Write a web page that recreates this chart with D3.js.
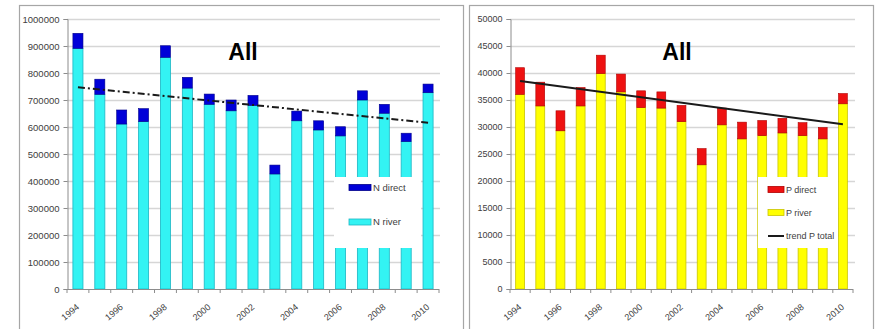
<!DOCTYPE html>
<html>
<head>
<meta charset="utf-8">
<script src="https://cdn.jsdelivr.net/npm/d3@7"></script>
<style>
  body { margin: 0; background: #fff; }
  svg { display: block; }
  text { font-family: "Liberation Sans", Arial, sans-serif; fill: #404040; }
  .title { font-family: "Liberation Sans Narrow", "Liberation Sans", Arial, sans-serif; font-weight: bold; fill: #000; }
</style>
</head>
<body>
<svg id="chart" width="879" height="329"></svg>
<script>
// Years on the category axis
const years = [1994, 1995, 1996, 1997, 1998, 1999, 2000, 2001, 2002,
               2003, 2004, 2005, 2006, 2007, 2008, 2009, 2010];
const yearLabels = ["1994", "1996", "1998", "2000", "2002", "2004", "2006", "2008", "2010"];

// Nitrogen inputs
const nRiver  = [891000, 721000, 611000, 620000, 858000, 744000, 684000, 660000, 680000,
                 426000, 623000, 589000, 567000, 700000, 651000, 546000, 727000];
const nDirect = [56000, 56000, 52000, 48000, 43000, 40000, 38000, 40000, 37000,
                 33000, 36000, 34000, 34000, 34000, 33000, 31000, 32000];
const nTrend  = [747000, 616000];          // trend values at 1994 and 2010
const nTicks  = [0, 100000, 200000, 300000, 400000, 500000, 600000, 700000, 800000, 900000, 1000000];

// Phosphorus inputs
const pRiver  = [36050, 33900, 29300, 33900, 39900, 36500, 33600, 33500, 31000,
                 23000, 30400, 27800, 28400, 28900, 28400, 27800, 34300];
const pDirect = [4930, 4400, 3700, 3400, 3400, 3300, 3100, 3000, 3000,
                 3000, 3100, 3100, 2800, 2700, 2400, 2100, 1900];
const pTrend  = [38500, 30500];            // trend P total at 1994 and 2010
const pTicks  = [0, 5000, 10000, 15000, 20000, 25000, 30000, 35000, 40000, 45000, 50000];

const svg = d3.select("#chart");

// Panel frames
svg.append("rect").attr("x", 19.5).attr("y", 5.5).attr("width", 444).attr("height", 340)
  .attr("fill", "none").attr("stroke", "#a6a6a6").attr("stroke-width", 1.2);
svg.append("rect").attr("x", 469.5).attr("y", 5.5).attr("width", 404).attr("height", 340)
  .attr("fill", "none").attr("stroke", "#a6a6a6").attr("stroke-width", 1.2);

function drawPanel(cfg) {
  const g = svg.append("g");
  const x = d3.scaleBand().domain(years).range([cfg.x0, cfg.x1])
    .paddingInner(cfg.pad).paddingOuter(cfg.pad / 2);
  const y = d3.scaleLinear().domain([0, cfg.ticks[cfg.ticks.length - 1]]).range([289, 19]);

  // horizontal gridlines
  g.append("g").selectAll("line").data(cfg.ticks.slice(1)).join("line")
    .attr("x1", cfg.x0).attr("x2", cfg.gridEnd)
    .attr("y1", d => Math.round(y(d)) + 0.5).attr("y2", d => Math.round(y(d)) + 0.5)
    .attr("stroke", "#d6d6d6").attr("stroke-width", 1.3);

  // y axis
  const ya = g.append("g").attr("transform", `translate(${cfg.x0 + 0.5},0)`)
    .call(d3.axisLeft(y).tickValues(cfg.ticks).tickFormat(d3.format("d")).tickSize(4).tickPadding(4));
  ya.selectAll("path, line").attr("stroke", "#8c8c8c");
  ya.selectAll("text").style("font-size", cfg.tickFont + "px").attr("fill", "#404040");

  // stacked bars: river at the bottom, direct on top
  const bw = x.bandwidth();
  g.append("g").selectAll("rect").data(years).join("rect")
    .attr("x", d => x(d)).attr("width", bw)
    .attr("y", (d, i) => y(cfg.river[i])).attr("height", (d, i) => y(0) - y(cfg.river[i]))
    .attr("fill", cfg.riverColor).attr("stroke", cfg.riverStroke).attr("stroke-width", 0.8);
  g.append("g").selectAll("rect").data(years).join("rect")
    .attr("x", d => x(d)).attr("width", bw)
    .attr("y", (d, i) => y(cfg.river[i] + cfg.direct[i]))
    .attr("height", (d, i) => y(cfg.river[i]) - y(cfg.river[i] + cfg.direct[i]))
    .attr("fill", cfg.directColor).attr("stroke", cfg.directStroke).attr("stroke-width", 0.6);

  // x axis line and ticks at category boundaries
  g.append("line").attr("x1", cfg.x0).attr("x2", cfg.x1).attr("y1", 289.5).attr("y2", 289.5)
    .attr("stroke", "#8c8c8c");
  const bounds = years.map(d => x(d) - x.step() * cfg.pad / 2).concat([cfg.x1]);
  g.append("g").selectAll("line").data(bounds).join("line")
    .attr("x1", d => d).attr("x2", d => d).attr("y1", 289).attr("y2", 293)
    .attr("stroke", "#8c8c8c");
  g.append("g").selectAll("text").data(yearLabels).join("text")
    .attr("transform", d => `translate(${x(+d) + bw / 2 + 2},${308}) rotate(-40)`)
    .attr("text-anchor", "end").style("font-size", "9px").text(d => d);

  // trend line
  const first = years[0], last = years[years.length - 1];
  g.append("line")
    .attr("x1", x(first) + bw / 2).attr("y1", y(cfg.trend[0]))
    .attr("x2", x(last) + bw / 2).attr("y2", y(cfg.trend[1]))
    .attr("stroke", "#1a1a1a").attr("stroke-width", cfg.trendWidth)
    .attr("stroke-dasharray", cfg.trendDash);

  // title
  g.append("text").attr("class", "title").attr("x", cfg.titleX).attr("y", 60)
    .attr("text-anchor", "middle").style("font-size", "23px").text("All");

  // legend
  const lg = g.append("g");
  lg.append("rect").attr("x", cfg.leg.x).attr("y", 177).attr("width", cfg.leg.w).attr("height", 71)
    .attr("fill", "#fff");
  cfg.leg.items.forEach(it => {
    if (it.type === "line") {
      lg.append("line").attr("x1", cfg.leg.sx).attr("x2", cfg.leg.sx + cfg.leg.sw)
        .attr("y1", it.y).attr("y2", it.y).attr("stroke", "#1a1a1a").attr("stroke-width", 2);
    } else {
      lg.append("rect").attr("x", cfg.leg.sx).attr("y", it.y - 3).attr("width", cfg.leg.sw).attr("height", 6)
        .attr("fill", it.fill).attr("stroke", it.stroke).attr("stroke-width", 0.8);
    }
    lg.append("text").attr("x", cfg.leg.sx + cfg.leg.sw + 2).attr("y", it.y)
      .attr("dy", "0.35em").style("font-size", cfg.leg.font + "px").text(it.label);
  });
}

drawPanel({
  x0: 67, x1: 439, gridEnd: 440, pad: 0.54,
  ticks: nTicks, tickFont: 9.5,
  river: nRiver, direct: nDirect, trend: nTrend,
  riverColor: "#33f3f3", riverStroke: "#1cb6c4",
  directColor: "#0000d8", directStroke: "#00008a",
  trendWidth: 2, trendDash: "7,3,2,3",
  titleX: 243,
  leg: {
    x: 334, w: 87, sx: 349, sw: 22, font: 9.5,
    items: [
      { label: "N direct", y: 187.5, fill: "#0000d8", stroke: "#00008a" },
      { label: "N river", y: 222, fill: "#33f3f3", stroke: "#1cb6c4" }
    ]
  }
});

drawPanel({
  x0: 510, x1: 853, gridEnd: 855, pad: 0.56,
  ticks: pTicks, tickFont: 9,
  river: pRiver, direct: pDirect, trend: pTrend,
  riverColor: "#ffff00", riverStroke: "#c9c400",
  directColor: "#ee1111", directStroke: "#b00000",
  trendWidth: 2, trendDash: null,
  titleX: 677,
  leg: {
    x: 758, w: 80, sx: 768, sw: 16, font: 9,
    items: [
      { label: "P direct", y: 189.5, fill: "#ee1111", stroke: "#b00000" },
      { label: "P river", y: 212.5, fill: "#ffff00", stroke: "#c9c400" },
      { label: "trend P total", y: 236, type: "line" }
    ]
  }
});
</script>
</body>
</html>
